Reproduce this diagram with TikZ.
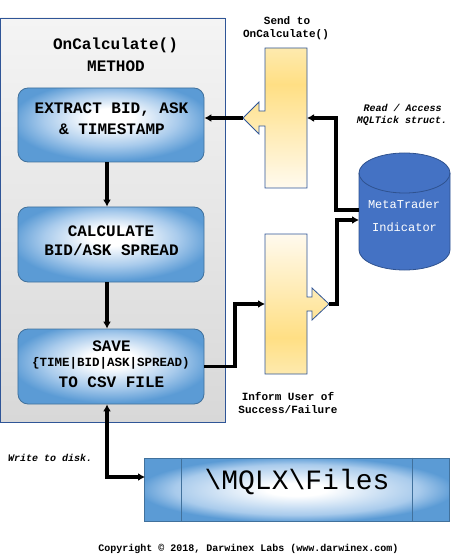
\documentclass[tikz,border=0pt]{standalone}
\usepackage{fontspec}
\setmonofont{Liberation Mono}
\usetikzlibrary{arrows.meta,calc}
\definecolor{contTop}{HTML}{F4F4F4}
\definecolor{contBot}{HTML}{D8D8D8}
\definecolor{contBorder}{HTML}{2F5597}
\definecolor{bedge}{HTML}{5B9BD5}
\definecolor{bmid}{HTML}{A9CBEC}
\definecolor{bborder}{HTML}{41719C}
\definecolor{ytop}{HTML}{FEEAAE}
\definecolor{ydark}{HTML}{FFDF84}
\definecolor{ylow}{HTML}{FFFAEE}
\definecolor{cylblue}{HTML}{4472C4}
\definecolor{cylborder}{HTML}{2F528F}
\pgfdeclareverticalshading{ybarA}{100bp}{color(0bp)=(ylow); color(25bp)=(ylow); color(62bp)=(ydark); color(75bp)=(ytop); color(100bp)=(ytop)}
\pgfdeclareverticalshading{ybarB}{100bp}{color(0bp)=(ytop); color(25bp)=(ytop); color(38bp)=(ydark); color(75bp)=(ylow); color(100bp)=(ylow)}
\pgfdeclareradialshading{bluerad}{\pgfpoint{0bp}{6bp}}{color(0bp)=(white); color(6bp)=(white); color(18bp)=(bmid); color(27bp)=(bedge); color(50bp)=(bedge)}
\pgfdeclareradialshading{filesrad}{\pgfpoint{0bp}{0bp}}{color(0bp)=(white); color(5bp)=(white); color(20bp)=(bmid); color(26bp)=(bedge); color(50bp)=(bedge)}
\begin{document}
\begin{tikzpicture}[x=1bp,y=1bp,
  bluebox/.style={draw=bborder, line width=0.8bp, rounded corners=10bp, minimum width=186bp, inner sep=0pt, shading=bluerad},
  boxtext/.style={font=\ttfamily\bfseries\fontsize{16bp}{19bp}\selectfont, inner sep=0pt},
  smalltext/.style={font=\ttfamily\bfseries\fontsize{11bp}{13bp}\selectfont, inner sep=0pt},
  note/.style={font=\ttfamily\bfseries\itshape\fontsize{10bp}{12bp}\selectfont, inner sep=0pt},
  bar/.style={draw=contBorder, line width=0.8bp},
  conn/.style={line width=3.5bp, -{Latex[length=7bp,width=8bp]}},
  conn2/.style={line width=3.5bp, {Latex[length=7bp,width=8bp]}-{Latex[length=7bp,width=8bp]}}]
\useasboundingbox (0,0) rectangle (453,-559);
% container
\draw[draw=contBorder, line width=0.9bp, top color=contTop, bottom color=contBot] (0.5,-18) rectangle (225,-422);
\node[boxtext] (title1) at (115.5,-45) {OnCalculate()};
\node[boxtext] (title2) at (116,-66) {METHOD};
% process boxes
\node[bluebox, minimum height=74bp] (box1) at (111,-125) {};
\node[bluebox, minimum height=75bp] (box2) at (111,-244.5) {};
\node[bluebox, minimum height=75bp] (box3) at (111,-366.5) {};
\node[boxtext] (t1a) at (111.5,-110) {EXTRACT BID, ASK};
\node[boxtext] (t1b) at (112,-129) {\& TIMESTAMP};
\node[boxtext] (t2a) at (111,-231) {CALCULATE};
\node[boxtext] (t2b) at (111.5,-250) {BID/ASK SPREAD};
\node[boxtext] (t3a) at (111.5,-346) {SAVE};
\node[boxtext, font=\ttfamily\bfseries\fontsize{12.5bp}{15bp}\selectfont] (t3b) at (111,-363.5) {\{TIME|BID|ASK|SPREAD)};
\node[boxtext] (t3c) at (111.5,-382) {TO CSV FILE};
\coordinate (vx) at (107,0);
\draw[conn] (box1.south -| vx) -- (box2.north -| vx);
\draw[conn] (box2.south -| vx) -- (box3.north -| vx);
% yellow bars
\path[bar, shading=ybarA] (265,-48) -- (307,-48) -- (307,-188) -- (265,-188) -- (265,-126) -- (259,-126) -- (259,-134) -- (243,-118) -- (259,-102) -- (259,-111) -- (265,-111) -- cycle;
\path[bar, shading=ybarB] (265,-234) -- (307,-234) -- (307,-297) -- (312,-297) -- (312,-288) -- (329,-304) -- (312,-320) -- (312,-311) -- (307,-311) -- (307,-374) -- (265,-374) -- cycle;
\coordinate (b1tip) at (243,-118);
\coordinate (b1E) at (307,-118);
\coordinate (b2W) at (265,-304);
\coordinate (b2tip) at (329,-304);
\node[smalltext] (send1) at (287,-21) {Send to};
\node[smalltext] (send2) at (286,-34.5) {OnCalculate()};
\node[smalltext] (inf1) at (288,-396) {Inform User of};
\node[smalltext] (inf2) at (288,-409.5) {Success/Failure};
% cylinder
\path[fill=cylblue, draw=cylborder, line width=0.8bp] (359,-173) -- (359,-250) arc[start angle=180, end angle=360, x radius=45.5bp, y radius=20bp] -- (450,-173) arc[start angle=0, end angle=180, x radius=45.5bp, y radius=20bp] -- cycle;
\draw[cylborder, line width=0.8bp] (359,-173) arc[start angle=180, end angle=360, x radius=45.5bp, y radius=20bp];
\node[font=\ttfamily\fontsize{12bp}{14bp}\selectfont, text=white, inner sep=0pt] (mt1) at (404,-204) {MetaTrader};
\node[font=\ttfamily\fontsize{12bp}{14bp}\selectfont, text=white, inner sep=0pt] (mt2) at (404.5,-227) {Indicator};
\coordinate (cylA) at (359,-210);
\coordinate (cylB) at (359,-220);
\node[note] (rd1) at (402.5,-108) {Read / Access};
\node[note] (rd2) at (402,-120.5) {MQLTick struct.};
% connectors
\draw[conn] (b1tip) -- (b1tip -| box1.east);
\coordinate (j1) at (336,-118);
\draw[conn] (cylA) -| (j1) -- (b1E);
\coordinate (j2) at (235,-304);
\draw[conn] (box3.east) -| (j2) -- (b2W);
\coordinate (j3) at (337,-220);
\draw[conn] (b2tip) -| (j3) -- (cylB);
% files
\node[draw=bborder, line width=0.8bp, minimum width=305bp, minimum height=63bp, inner sep=0pt, shading=filesrad] (files) at (296.5,-489.5) {};
\draw[bborder, line width=0.8bp] ($(files.north west)+(38,0)$) -- ($(files.south west)+(38,0)$);
\draw[bborder, line width=0.8bp] ($(files.north east)+(-37,0)$) -- ($(files.south east)+(-37,0)$);
\node[font=\ttfamily\fontsize{28bp}{32bp}\selectfont, inner sep=0pt] (ftext) at (297,-482) {\textbackslash MQLX\textbackslash Files};
\coordinate (fw) at (145,-477);
\draw[conn2] (box3.south -| vx) |- (fw);
\node[note, anchor=west] (wd) at (8,-458) {Write to disk.};
\node[font=\ttfamily\bfseries\fontsize{10bp}{12bp}\selectfont, inner sep=0pt] (copy) at (248.5,-549) {Copyright © 2018, Darwinex Labs (www.darwinex.com)};
\end{tikzpicture}
\end{document}
